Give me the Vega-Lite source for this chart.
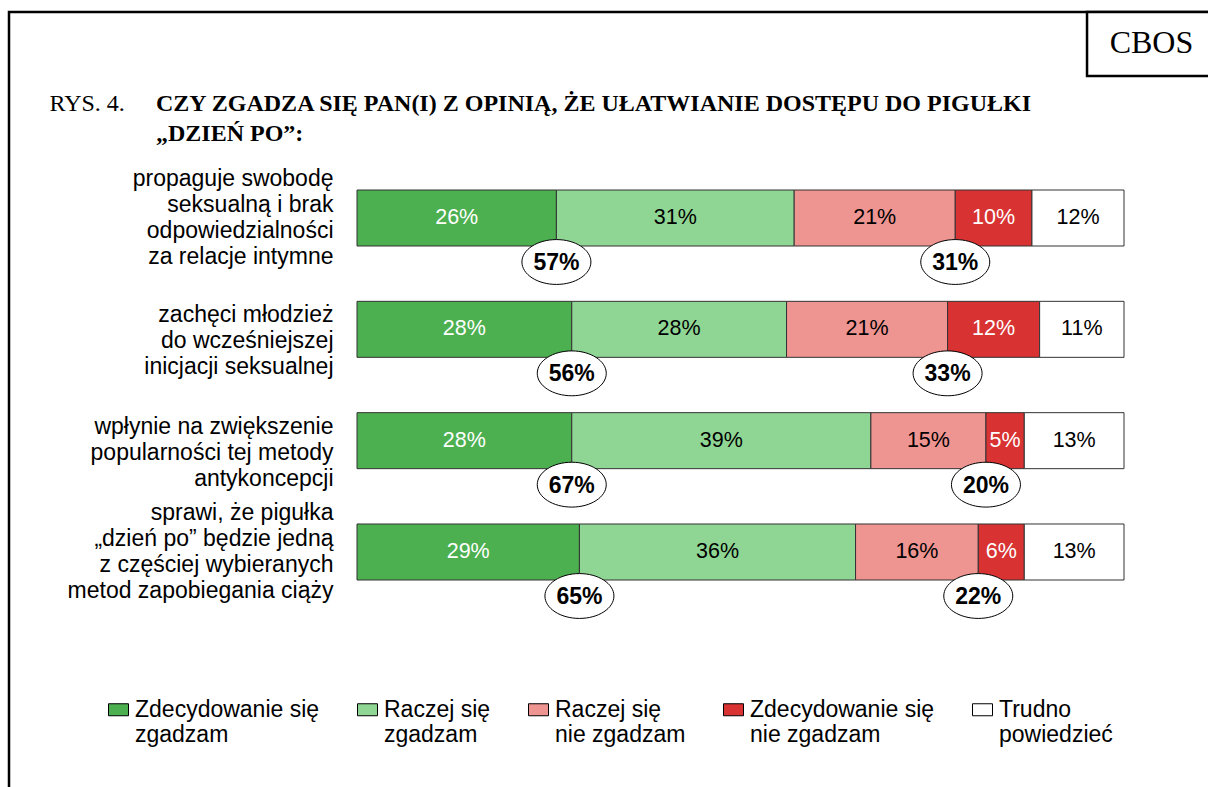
{
  "$schema": "https://vega.github.io/schema/vega-lite/v6.json",
  "width": 1203,
  "height": 790,
  "autosize": {"type": "none"},
  "padding": {"left": 9, "top": 12, "right": 0, "bottom": 0},
  "background": "white",
  "config": {
    "view": {"stroke": "black", "strokeWidth": 2.5},
    "font": "Liberation Sans"
  },
  "title": {
    "text": ["CZY ZGADZA SIĘ PAN(I) Z OPINIĄ, ŻE UŁATWIANIE DOSTĘPU DO PIGUŁKI", "„DZIEŃ PO”:"],
    "anchor": "start",
    "frame": "group",
    "orient": "top",
    "font": "Liberation Serif",
    "fontSize": 24,
    "fontWeight": "bold",
    "color": "black",
    "lineHeight": 30,
    "offset": 0,
    "dx": 147,
    "dy": 135
  },
  "data": {
    "values": [
      {"q": "propaguje swobodę|seksualną i brak|odpowiedzialności|za relacje intymne", "cat": "Zdecydowanie się zgadzam", "ord": 1, "side": "agree", "pct": 0.26},
      {"q": "propaguje swobodę|seksualną i brak|odpowiedzialności|za relacje intymne", "cat": "Raczej się zgadzam", "ord": 2, "side": "agree", "pct": 0.31},
      {"q": "propaguje swobodę|seksualną i brak|odpowiedzialności|za relacje intymne", "cat": "Raczej się nie zgadzam", "ord": 3, "side": "disagree", "pct": 0.21},
      {"q": "propaguje swobodę|seksualną i brak|odpowiedzialności|za relacje intymne", "cat": "Zdecydowanie się nie zgadzam", "ord": 4, "side": "disagree", "pct": 0.10},
      {"q": "propaguje swobodę|seksualną i brak|odpowiedzialności|za relacje intymne", "cat": "Trudno powiedzieć", "ord": 5, "side": "dk", "pct": 0.12},
      {"q": "zachęci młodzież|do wcześniejszej|inicjacji seksualnej", "cat": "Zdecydowanie się zgadzam", "ord": 1, "side": "agree", "pct": 0.28},
      {"q": "zachęci młodzież|do wcześniejszej|inicjacji seksualnej", "cat": "Raczej się zgadzam", "ord": 2, "side": "agree", "pct": 0.28},
      {"q": "zachęci młodzież|do wcześniejszej|inicjacji seksualnej", "cat": "Raczej się nie zgadzam", "ord": 3, "side": "disagree", "pct": 0.21},
      {"q": "zachęci młodzież|do wcześniejszej|inicjacji seksualnej", "cat": "Zdecydowanie się nie zgadzam", "ord": 4, "side": "disagree", "pct": 0.12},
      {"q": "zachęci młodzież|do wcześniejszej|inicjacji seksualnej", "cat": "Trudno powiedzieć", "ord": 5, "side": "dk", "pct": 0.11},
      {"q": "wpłynie na zwiększenie|popularności tej metody|antykoncepcji", "cat": "Zdecydowanie się zgadzam", "ord": 1, "side": "agree", "pct": 0.28},
      {"q": "wpłynie na zwiększenie|popularności tej metody|antykoncepcji", "cat": "Raczej się zgadzam", "ord": 2, "side": "agree", "pct": 0.39},
      {"q": "wpłynie na zwiększenie|popularności tej metody|antykoncepcji", "cat": "Raczej się nie zgadzam", "ord": 3, "side": "disagree", "pct": 0.15},
      {"q": "wpłynie na zwiększenie|popularności tej metody|antykoncepcji", "cat": "Zdecydowanie się nie zgadzam", "ord": 4, "side": "disagree", "pct": 0.05},
      {"q": "wpłynie na zwiększenie|popularności tej metody|antykoncepcji", "cat": "Trudno powiedzieć", "ord": 5, "side": "dk", "pct": 0.13},
      {"q": "sprawi, że pigułka|„dzień po” będzie jedną|z częściej wybieranych|metod zapobiegania ciąży", "cat": "Zdecydowanie się zgadzam", "ord": 1, "side": "agree", "pct": 0.29},
      {"q": "sprawi, że pigułka|„dzień po” będzie jedną|z częściej wybieranych|metod zapobiegania ciąży", "cat": "Raczej się zgadzam", "ord": 2, "side": "agree", "pct": 0.36},
      {"q": "sprawi, że pigułka|„dzień po” będzie jedną|z częściej wybieranych|metod zapobiegania ciąży", "cat": "Raczej się nie zgadzam", "ord": 3, "side": "disagree", "pct": 0.16},
      {"q": "sprawi, że pigułka|„dzień po” będzie jedną|z częściej wybieranych|metod zapobiegania ciąży", "cat": "Zdecydowanie się nie zgadzam", "ord": 4, "side": "disagree", "pct": 0.06},
      {"q": "sprawi, że pigułka|„dzień po” będzie jedną|z częściej wybieranych|metod zapobiegania ciąży", "cat": "Trudno powiedzieć", "ord": 5, "side": "dk", "pct": 0.13}
    ]
  },
  "layer": [
    {
      "mark": {"type": "bar", "stroke": "#333333", "strokeWidth": 1},
      "encoding": {
        "y": {
          "field": "q", "type": "nominal", "sort": null,
          "scale": {"range": [178, 568], "paddingInner": 0.497, "paddingOuter": 0},
          "axis": {
            "title": null, "orient": "left", "offset": -324, "domain": false, "ticks": false, "tickSize": 0, "labelPadding": 0,
            "labelAlign": "right", "labelBaseline": "middle", "labelFont": "Liberation Sans", "labelFontSize": 23, "labelColor": "black",
            "labelLineHeight": 26, "labelLimit": 0, "labelExpr": "split(datum.label, '|')",
            "labelOffset": {"condition": {"test": "length(split(datum.value, '|')) > 3", "value": -39}, "value": -14}
          }
        },
        "x": {
          "field": "pct", "type": "quantitative", "stack": "zero",
          "scale": {"domain": [0, 1], "range": [348, 1115], "nice": false},
          "axis": {"orient": "top", "title": "RYS. 4.", "labels": false, "ticks": false, "domain": false, "grid": false, "titleX": 40, "titleY": 98, "titleAnchor": "start", "titleAlign": "left", "titleBaseline": "alphabetic", "titleFont": "Liberation Serif", "titleFontSize": 24, "titleFontWeight": "normal", "titleColor": "black"}
        },
        "order": {"field": "ord", "type": "quantitative"},
        "color": {
          "field": "cat", "type": "nominal",
          "scale": {
            "domain": ["Zdecydowanie się zgadzam", "Raczej się zgadzam", "Raczej się nie zgadzam", "Zdecydowanie się nie zgadzam", "Trudno powiedzieć"],
            "range": ["#4CAF50", "#8FD694", "#EE9491", "#D83232", "#FFFFFF"]
          },
          "legend": {
            "orient": "none", "legendX": 98, "legendY": 686, "direction": "horizontal", "columns": 5, "columnPadding": 35, "padding": 0,
            "title": null, "symbolType": "M-1,-0.6H1V0.6H-1Z", "symbolSize": 400, "symbolStrokeColor": "black", "symbolStrokeWidth": 1, "symbolOpacity": 1,
            "labelFont": "Liberation Sans", "labelFontSize": 23, "labelColor": "black", "labelLineHeight": 25, "labelOffset": 5, "labelLimit": 400,
            "labelExpr": "split(replace(replace(datum.label, 'się ', 'się|'), 'Trudno ', 'Trudno|'), '|')"
          }
        }
      }
    },
    {
      "mark": {"type": "text", "font": "Liberation Sans", "fontSize": 21.5, "baseline": "middle", "align": "center"},
      "encoding": {
        "y": {"field": "q", "type": "nominal", "sort": null},
        "x": {"field": "pct", "type": "quantitative", "stack": "zero", "bandPosition": 0.5, "title": "RYS. 4."},
        "order": {"field": "ord", "type": "quantitative"},
        "text": {"field": "pct", "type": "quantitative", "format": ".0%"},
        "color": {"condition": {"test": "datum.ord == 1 || datum.ord == 4", "value": "white"}, "value": "black"}
      }
    },
    {
      "transform": [
        {"joinaggregate": [{"op": "sum", "field": "pct", "as": "net"}], "groupby": ["q", "side"]},
        {"stack": "pct", "groupby": ["q"], "sort": [{"field": "ord", "order": "ascending"}], "as": ["s0", "s1"]},
        {"filter": "datum.ord == 1 || datum.ord == 3"}
      ],
      "layer": [
        {
          "mark": {"type": "point", "shape": "M-1,0C-1,-0.359,-0.552,-0.65,0,-0.65C0.552,-0.65,1,-0.359,1,0C1,0.359,0.552,0.65,0,0.65C-0.552,0.65,-1,0.359,-1,0Z", "size": 4761, "filled": true, "fill": "white", "stroke": "black", "strokeWidth": 1, "opacity": 1, "yOffset": 16},
          "encoding": {
            "y": {"field": "q", "type": "nominal", "sort": null, "bandPosition": 1},
            "x": {"field": "s1", "type": "quantitative", "title": "RYS. 4."}
          }
        },
        {
          "mark": {"type": "text", "font": "Liberation Sans", "fontSize": 23, "fontWeight": "bold", "baseline": "middle", "align": "center", "color": "black", "yOffset": 17},
          "encoding": {
            "y": {"field": "q", "type": "nominal", "sort": null, "bandPosition": 1},
            "x": {"field": "s1", "type": "quantitative", "title": "RYS. 4."},
            "text": {"field": "net", "type": "quantitative", "format": ".0%"}
          }
        }
      ]
    },
    {
      "data": {"values": [{"label": "CBOS"}]},
      "layer": [
        {
          "mark": {"type": "rect", "fill": "white", "stroke": "black", "strokeWidth": 2.5},
          "encoding": {
            "x": {"datum": 0.9518, "type": "quantitative", "title": "RYS. 4."},
            "x2": {"datum": 1.2},
            "y": {"value": 0},
            "y2": {"value": 64}
          }
        },
        {
          "mark": {"type": "text", "font": "Liberation Serif", "fontSize": 32, "align": "center", "baseline": "alphabetic", "color": "black"},
          "encoding": {
            "x": {"datum": 1.0358, "type": "quantitative", "title": "RYS. 4."},
            "y": {"value": 41},
            "text": {"field": "label"}
          }
        }
      ]
    }
  ]
}
